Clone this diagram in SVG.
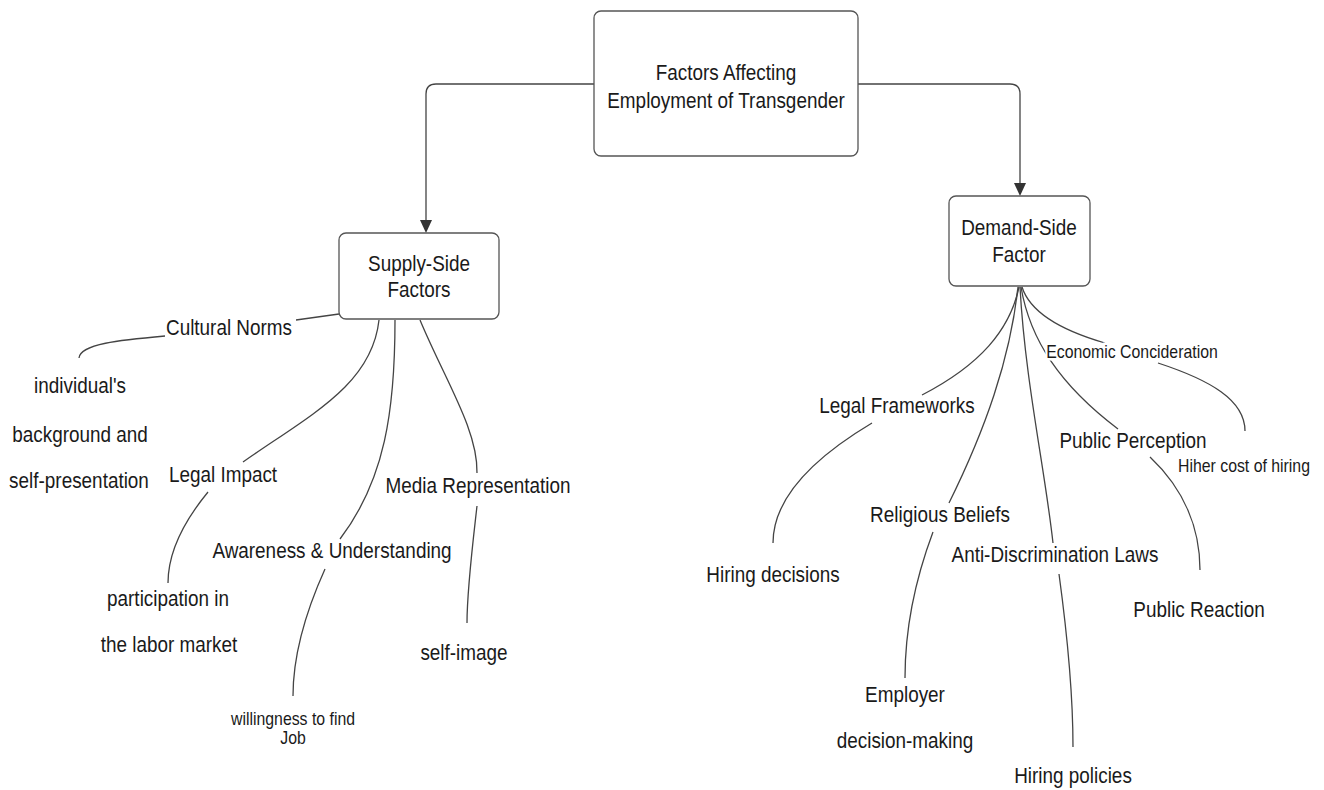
<svg xmlns="http://www.w3.org/2000/svg" width="1324" height="790" viewBox="0 0 1324 790">
<style>
text{font-family:"Liberation Sans",Arial,sans-serif;fill:#1a1a1a;text-anchor:middle}
.box{fill:#fff;stroke:#555;stroke-width:1.3}
.bt{font-size:22px}
.lb{font-size:22px;paint-order:stroke;stroke:#fff;stroke-width:5px}
.sm{font-size:18px}
.ln{fill:none;stroke:#444;stroke-width:1.3}
.ah{fill:#333}
</style>
<rect width="1324" height="790" fill="#fff"/>
<g id="connectors">
<path class="ln" d="M594,84 H436 Q426,84 426,94 V220"/>
<path class="ah" d="M420,220 L432,220 L426,233 Z"/>
<path class="ln" d="M858,84 H1010 Q1020,84 1020,94 V184"/>
<path class="ah" d="M1014,183 L1026,183 L1020,196 Z"/>
<path class="ln" d="M339,314 L296,320"/>
<path class="ln" d="M165,336 C120,340 80,344 79,358"/>
<path class="ln" d="M379,320 C372,385 310,415 243,462"/>
<path class="ln" d="M208,492 C185,520 168,550 168,583"/>
<path class="ln" d="M395,320 C395,410 385,480 340,539"/>
<path class="ln" d="M325,569 C302,620 293,660 293,696"/>
<path class="ln" d="M420,320 C445,380 478,430 477,473"/>
<path class="ln" d="M477,506 C472,550 467,590 467,623"/>
<path class="ln" d="M1019,287 C1010,330 980,365 922,395"/>
<path class="ln" d="M872,423 C810,460 773,500 773,543"/>
<path class="ln" d="M1018,287 C1010,360 985,430 949,503"/>
<path class="ln" d="M933,532 C915,580 905,630 905,678"/>
<path class="ln" d="M1020,287 C1025,380 1045,470 1053,543"/>
<path class="ln" d="M1059,574 C1068,640 1073,700 1073,747"/>
<path class="ln" d="M1021,287 C1030,340 1060,385 1118,429"/>
<path class="ln" d="M1150,457 C1185,490 1200,530 1200,570"/>
<path class="ln" d="M1022,287 C1030,312 1060,330 1105,343"/>
<path class="ln" d="M1158,363 C1210,380 1245,400 1245,431"/>
</g>
<g id="root">
<rect class="box" x="594" y="11" width="264" height="145" rx="7"/>
<text class="bt" transform="translate(726,80) scale(0.86,1)">Factors Affecting</text>
<text class="bt" transform="translate(726,108) scale(0.86,1)">Employment of Transgender</text>
</g>
<g id="supply">
<rect class="box" x="339" y="233" width="160" height="86" rx="7"/>
<text class="bt" transform="translate(419,271) scale(0.86,1)">Supply-Side</text>
<text class="bt" transform="translate(419,297) scale(0.86,1)">Factors</text>
</g>
<g id="demand">
<rect class="box" x="949" y="196" width="141" height="90" rx="7"/>
<text class="bt" transform="translate(1019,235) scale(0.86,1)">Demand-Side</text>
<text class="bt" transform="translate(1019,262) scale(0.86,1)">Factor</text>
</g>
<g id="cultural"><text class="lb" transform="translate(229,335) scale(0.86,1)">Cultural Norms</text></g>
<g id="individual">
<text class="lb" transform="translate(80,393) scale(0.86,1)">individual's</text>
<text class="lb" transform="translate(80,442) scale(0.86,1)">background and</text>
<text class="lb" transform="translate(79,488) scale(0.86,1)">self-presentation</text>
</g>
<g id="legal-impact"><text class="lb" transform="translate(223,482) scale(0.86,1)">Legal Impact</text></g>
<g id="participation">
<text class="lb" transform="translate(168,606) scale(0.86,1)">participation in</text>
<text class="lb" transform="translate(169,652) scale(0.86,1)">the labor market</text>
</g>
<g id="awareness"><text class="lb" transform="translate(332,558) scale(0.86,1)">Awareness &amp; Understanding</text></g>
<g id="willingness">
<text class="sm" transform="translate(293,725) scale(0.88,1)">willingness to find</text>
<text class="sm" transform="translate(293,744) scale(0.88,1)">Job</text>
</g>
<g id="media"><text class="lb" transform="translate(478,493) scale(0.86,1)">Media Representation</text></g>
<g id="self-image"><text class="lb" transform="translate(464,660) scale(0.86,1)">self-image</text></g>
<g id="legal-frameworks"><text class="lb" transform="translate(897,413) scale(0.86,1)">Legal Frameworks</text></g>
<g id="hiring-decisions"><text class="lb" transform="translate(773,582) scale(0.86,1)">Hiring decisions</text></g>
<g id="religious"><text class="lb" transform="translate(940,522) scale(0.86,1)">Religious Beliefs</text></g>
<g id="employer">
<text class="lb" transform="translate(905,702) scale(0.86,1)">Employer</text>
<text class="lb" transform="translate(905,748) scale(0.86,1)">decision-making</text>
</g>
<g id="anti-discrimination"><text class="lb" transform="translate(1055,562) scale(0.86,1)">Anti-Discrimination Laws</text></g>
<g id="hiring-policies"><text class="lb" transform="translate(1073,783) scale(0.86,1)">Hiring policies</text></g>
<g id="public-perception"><text class="lb" transform="translate(1133,448) scale(0.86,1)">Public Perception</text></g>
<g id="public-reaction"><text class="lb" transform="translate(1199,617) scale(0.86,1)">Public Reaction</text></g>
<g id="economic"><text class="lb sm" transform="translate(1132,358) scale(0.88,1)">Economic Concideration</text></g>
<g id="cost"><text class="lb sm" transform="translate(1244,472) scale(0.88,1)">Hiher cost of hiring</text></g>
</svg>
